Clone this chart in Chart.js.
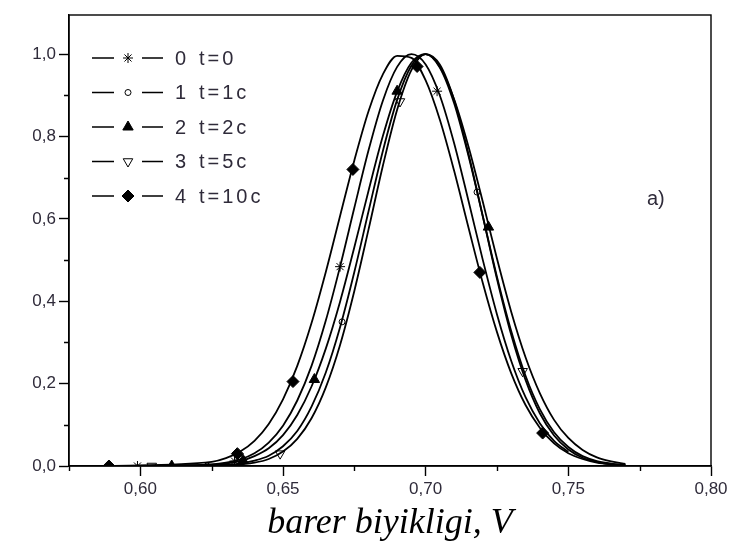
<!DOCTYPE html>
<html>
<head>
<meta charset="utf-8">
<script src="https://cdn.jsdelivr.net/npm/chart.js@4.4.1/dist/chart.umd.min.js"></script>
<style>
    html, body { margin: 0; padding: 0; background: #ffffff; }
    #contenedor { width: 739px; height: 553px; position: relative; }
</style>
</head>
<body>
<div id="contenedor"><canvas id="grafico"></canvas></div>
<script>
// Datos
const X_GRID = [0.625, 0.630, 0.635, 0.640, 0.645, 0.650, 0.655, 0.660, 0.665, 0.670,
                0.675, 0.680, 0.685, 0.690, 0.695, 0.700, 0.705, 0.710, 0.715, 0.720,
                0.725, 0.730, 0.735, 0.740, 0.745, 0.750, 0.755, 0.760, 0.765, 0.770];

const Y_T0  = [0.004, 0.008, 0.016, 0.031, 0.057, 0.098, 0.159, 0.243, 0.353, 0.484,
               0.627, 0.767, 0.887, 0.969, 1.000, 0.975, 0.899, 0.783, 0.644, 0.501,
               0.368, 0.255, 0.167, 0.104, 0.061, 0.034, null, null, null, null];
const Y_T1  = [0.001, 0.003, 0.006, 0.013, 0.025, 0.048, 0.085, 0.144, 0.227, 0.337,
               0.471, 0.619, 0.765, 0.889, 0.972, 1.000, 0.967, 0.880, 0.753, 0.607,
               0.459, 0.327, 0.219, 0.138, 0.082, 0.046, 0.024, 0.012, 0.006, 0.002];
const Y_T2  = [0.003, 0.006, 0.012, 0.024, 0.043, 0.075, 0.124, 0.193, 0.285, 0.399,
               0.531, 0.669, 0.801, 0.909, 0.979, 1.000, 0.969, 0.890, 0.776, 0.642,
               0.503, 0.374, 0.264, 0.177, 0.112, 0.068, 0.039, 0.021, 0.011, 0.005];
const Y_T5  = [0.001, 0.001, 0.004, 0.008, 0.017, 0.035, 0.066, 0.116, 0.191, 0.294,
               0.425, 0.575, 0.729, 0.865, 0.961, 1.000, 0.974, 0.888, 0.758, 0.607,
               0.454, 0.318, 0.209, 0.128, 0.074, 0.040, 0.020, 0.010, 0.004, 0.002];
const Y_T10 = [0.010, 0.019, 0.035, 0.061, 0.102, 0.162, 0.243, 0.347, 0.471, 0.607,
               0.742, 0.862, 0.951, 0.996, 0.991, 0.936, 0.840, 0.716, 0.579, 0.445,
               0.325, 0.225, 0.148, 0.093, 0.055, 0.031, 0.017, 0.008, 0.004, 0.002];

// inicio de cada curva sobre el eje (y = 0)
const START_X = [0.599, 0.623, 0.589, 0.604, 0.589];

// puntos marcados
const MK_X_T0  = [0.599, 0.633, 0.670, 0.704];
const MK_Y_T0  = [0, 0.012, 0.484, 0.91];
const MK_X_T1  = [0.6234, 0.6707, 0.718];
const MK_Y_T1  = [0, 0.35, 0.665];
const MK_X_T2  = [0.611, 0.636, 0.661, 0.690, 0.722];
const MK_Y_T2  = [0, 0.014, 0.21, 0.91, 0.58];
const MK_X_T5  = [0.604, 0.649, 0.691, 0.734];
const MK_Y_T5  = [0, 0.03, 0.885, 0.23];
const MK_X_T10 = [0.589, 0.634, 0.6535, 0.6745, 0.697, 0.719, 0.741];
const MK_Y_T10 = [0, 0.03, 0.205, 0.72, 0.97, 0.47, 0.08];

const LEGEND_NUM  = ['0', '1', '2', '3', '4'];
const LEGEND_TEXT = ['t=0', 't=1c', 't=2c', 't=5c', 't=10c'];

const X_TICKS = [0.60, 0.65, 0.70, 0.75, 0.80];
const X_MINOR = [0.575, 0.625, 0.675, 0.725, 0.775];
const Y_TICKS = [0.0, 0.2, 0.4, 0.6, 0.8, 1.0];
const Y_MINOR = [0.1, 0.3, 0.5, 0.7, 0.9];

const CURVAS = [Y_T0, Y_T1, Y_T2, Y_T5, Y_T10];
const MARCAS = [[MK_X_T0, MK_Y_T0], [MK_X_T1, MK_Y_T1], [MK_X_T2, MK_Y_T2], [MK_X_T5, MK_Y_T5], [MK_X_T10, MK_Y_T10]];

// estilo de marcadores
const ESTILOS = [
    { pointStyle: 'star',     radius: 5,   fill: '#000000', rotation: 0 },
    { pointStyle: 'circle',   radius: 3,   fill: '#ffffff', rotation: 0 },
    { pointStyle: 'triangle', radius: 6,   fill: '#000000', rotation: 0 },
    { pointStyle: 'triangle', radius: 5.5, fill: '#ffffff', rotation: 180 },
    { pointStyle: 'rectRot',  radius: 6,   fill: '#000000', rotation: 0 }
];

const FUENTE = "'Liberation Sans', Arial, sans-serif";
const COLOR_TEXTO = '#2f2b3a';

function formatoComa(v, dec) {
    return Number(v).toFixed(dec).replace('.', ',');
}

const datasets = [];
CURVAS.forEach((ys, i) => {
    const puntos = [{ x: START_X[i], y: 0 }];
    X_GRID.forEach((x, j) => {
        if (ys[j] !== null) puntos.push({ x: x, y: ys[j] });
    });
    datasets.push({
        data: puntos,
        borderColor: '#000000',
        borderWidth: 1.8,
        pointRadius: 0,
        fill: false,
        cubicInterpolationMode: 'monotone'
    });
});
MARCAS.forEach(([xs, ys], i) => {
    const est = ESTILOS[i];
    datasets.push({
        data: xs.map((x, j) => ({ x: x, y: ys[j] })),
        showLine: false,
        pointStyle: est.pointStyle,
        pointRadius: est.radius,
        pointRotation: est.rotation,
        pointBackgroundColor: est.fill,
        pointBorderColor: '#000000',
        pointBorderWidth: 1,
        clip: 0
    });
});

// marco completo y marcas menores
const marcoPlugin = {
    id: 'marco',
    afterDatasetsDraw(chart) {
        const { ctx, chartArea, scales } = chart;
        ctx.save();
        ctx.strokeStyle = '#000000';
        ctx.lineWidth = 1.4;
        ctx.strokeRect(chartArea.left, chartArea.top, chartArea.right - chartArea.left, chartArea.bottom - chartArea.top);
        ctx.beginPath();
        X_MINOR.forEach(v => {
            const px = Math.round(scales.x.getPixelForValue(v)) + 0.5;
            ctx.moveTo(px, chartArea.bottom);
            ctx.lineTo(px, chartArea.bottom + 5);
        });
        Y_MINOR.forEach(v => {
            const py = Math.round(scales.y.getPixelForValue(v)) + 0.5;
            ctx.moveTo(chartArea.left - 5, py);
            ctx.lineTo(chartArea.left, py);
        });
        ctx.stroke();
        ctx.restore();
    }
};

// leyenda dentro del area
const leyendaPlugin = {
    id: 'leyendaInterna',
    afterDraw(chart) {
        const { ctx } = chart;
        ctx.save();
        ctx.textBaseline = 'middle';
        ctx.textAlign = 'left';
        ctx.font = '20px ' + FUENTE;
        ctx.letterSpacing = '3px';
        LEGEND_NUM.forEach((num, i) => {
            const y = 58 + i * 34.5;
            ctx.strokeStyle = '#000000';
            ctx.lineWidth = 1.4;
            ctx.beginPath();
            ctx.moveTo(92, y); ctx.lineTo(114, y);
            ctx.moveTo(142, y); ctx.lineTo(163, y);
            ctx.stroke();
            const est = ESTILOS[i];
            ctx.fillStyle = est.fill;
            ctx.lineWidth = 1;
            if (Chart.helpers && Chart.helpers.drawPoint) {
                Chart.helpers.drawPoint(ctx, {
                    pointStyle: est.pointStyle,
                    radius: est.radius,
                    rotation: est.rotation,
                    borderWidth: 1
                }, 128, y);
            }
            ctx.fillStyle = COLOR_TEXTO;
            ctx.fillText(num, 175, y + 1);
            ctx.fillText(LEGEND_TEXT[i], 199, y + 1);
        });
        ctx.letterSpacing = '0px';
        ctx.fillText('a)', 647, 199);
        ctx.restore();
    }
};

new Chart(document.getElementById('grafico'), {
    type: 'line',
    data: { datasets: datasets },
    options: {
        responsive: true,
        maintainAspectRatio: false,
        animation: false,
        layout: { padding: { top: 15, right: 28, left: 0, bottom: 0 } },
        plugins: {
            legend: { display: false },
            tooltip: { enabled: false }
        },
        scales: {
            x: {
                type: 'linear',
                min: 0.575,
                max: 0.80,
                afterBuildTicks: s => { s.ticks = X_TICKS.map(v => ({ value: v })); },
                afterFit: s => { s.height = 87; },
                grid: { drawOnChartArea: false, drawTicks: true, tickLength: 10, color: '#000000', tickColor: '#000000', tickWidth: 1.4 },
                border: { display: true, color: '#000000', width: 1.4 },
                ticks: {
                    autoSkip: false,
                    maxRotation: 0,
                    padding: 3,
                    color: COLOR_TEXTO,
                    font: { family: FUENTE, size: 17 },
                    callback: v => formatoComa(v, 2)
                },
                title: {
                    display: true,
                    text: 'barer biyikligi, V',
                    color: '#000000',
                    font: { family: "'Liberation Serif', 'Times New Roman', serif", style: 'italic', size: 36 },
                    padding: { top: 0, bottom: 8 }
                }
            },
            y: {
                type: 'linear',
                min: 0,
                max: 1.095,
                afterBuildTicks: s => { s.ticks = Y_TICKS.map(v => ({ value: v })); },
                afterFit: s => { s.width = 69; },
                grid: { drawOnChartArea: false, drawTicks: true, tickLength: 10, color: '#000000', tickColor: '#000000', tickWidth: 1.4 },
                border: { display: true, color: '#000000', width: 1.4 },
                ticks: {
                    autoSkip: false,
                    padding: 3,
                    color: COLOR_TEXTO,
                    font: { family: FUENTE, size: 17 },
                    callback: v => formatoComa(v, 1)
                }
            }
        }
    },
    plugins: [marcoPlugin, leyendaPlugin]
});
</script>
</body>
</html>
